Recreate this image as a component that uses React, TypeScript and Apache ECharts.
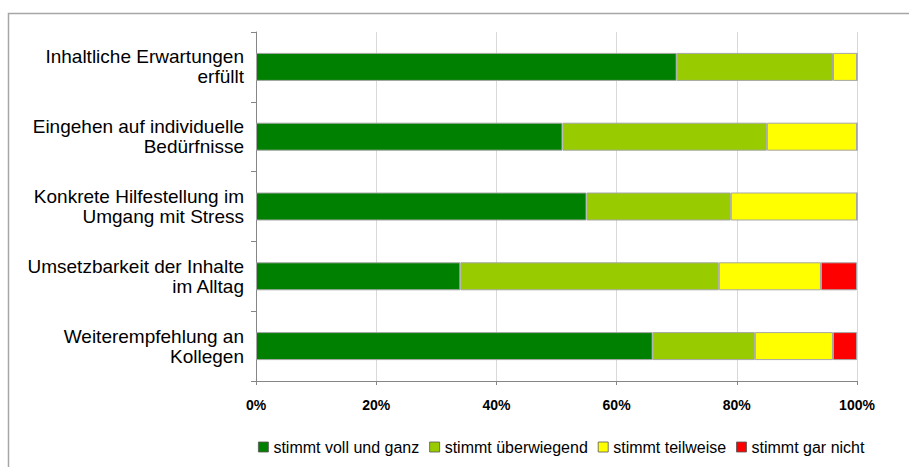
import React, { useEffect, useRef } from "react";
import * as echarts from "echarts";

const categories = [
  "Inhaltliche Erwartungen\nerfüllt",
  "Eingehen auf individuelle\nBedürfnisse",
  "Konkrete Hilfestellung im\nUmgang mit Stress",
  "Umsetzbarkeit der Inhalte\nim Alltag",
  "Weiterempfehlung an\nKollegen",
];
const seriesNames = ["stimmt voll und ganz", "stimmt überwiegend", "stimmt teilweise", "stimmt gar nicht"];
const vollUndGanz = [70, 51, 55, 34, 66];
const ueberwiegend = [26, 34, 24, 43, 17];
const teilweise = [4, 15, 21, 17, 13];
const garNicht = [0, 0, 0, 6, 4];
const colors = ["#008000", "#99cc00", "#ffff00", "#ff0000"];

const FONT = "'Liberation Sans', Arial, sans-serif";

export default function App() {
  const ref = useRef<HTMLDivElement>(null);
  useEffect(() => {
    if (!ref.current) return;
    const chart = echarts.init(ref.current, null, { renderer: "svg" });
    const data = [vollUndGanz, ueberwiegend, teilweise, garNicht];
    chart.setOption({
      animation: false,
      backgroundColor: "#ffffff",
      textStyle: { fontFamily: FONT },
      graphic: [
        {
          type: "rect",
          shape: { x: 8.5, y: 13.5, width: 920, height: 470 },
          style: { fill: "none", stroke: "#a6a6a6", lineWidth: 1.5 },
          z: -1,
        },
      ],
      grid: { left: 256, right: 52, top: 32, bottom: 86 },
      legend: {
        left: 258,
        top: 439,
        padding: 0,
        itemWidth: 10,
        itemHeight: 10,
        itemGap: 10,
        icon: "rect",
        textStyle: { fontSize: 16, color: "#000", fontFamily: FONT },
        data: seriesNames.map((n, i) => ({
          name: n,
          itemStyle: { color: colors[i], borderColor: "#555", borderWidth: 0.8 },
        })),
      },
      xAxis: {
        type: "value",
        min: 0,
        max: 100,
        interval: 20,
        axisLine: { show: true, lineStyle: { color: "#868686" } },
        axisTick: { show: true, length: 4, lineStyle: { color: "#868686" } },
        splitLine: { show: true, lineStyle: { color: "#d9d9d9" } },
        axisLabel: {
          formatter: "{value}%",
          fontWeight: "bold",
          fontSize: 14,
          color: "#000",
          margin: 17,
          fontFamily: FONT,
        },
      },
      yAxis: {
        type: "category",
        inverse: true,
        data: categories,
        axisLine: { show: true, lineStyle: { color: "#868686" } },
        axisTick: { show: true, length: 5, lineStyle: { color: "#868686" } },
        axisLabel: {
          fontSize: 19,
          color: "#000",
          lineHeight: 20,
          margin: 12,
          align: "right",
          fontFamily: FONT,
        },
      },
      series: seriesNames.map((name, i) => ({
        name,
        type: "bar",
        stack: "total",
        barWidth: 28,
        data: data[i],
        itemStyle: { color: colors[i], borderColor: "#a6a6a6", borderWidth: 1 },
      })),
    });
    return () => chart.dispose();
  }, []);
  return (
    <div
      ref={ref}
      style={{ position: "fixed", left: 0, top: 0, width: 909, height: 467 }}
    />
  );
}
